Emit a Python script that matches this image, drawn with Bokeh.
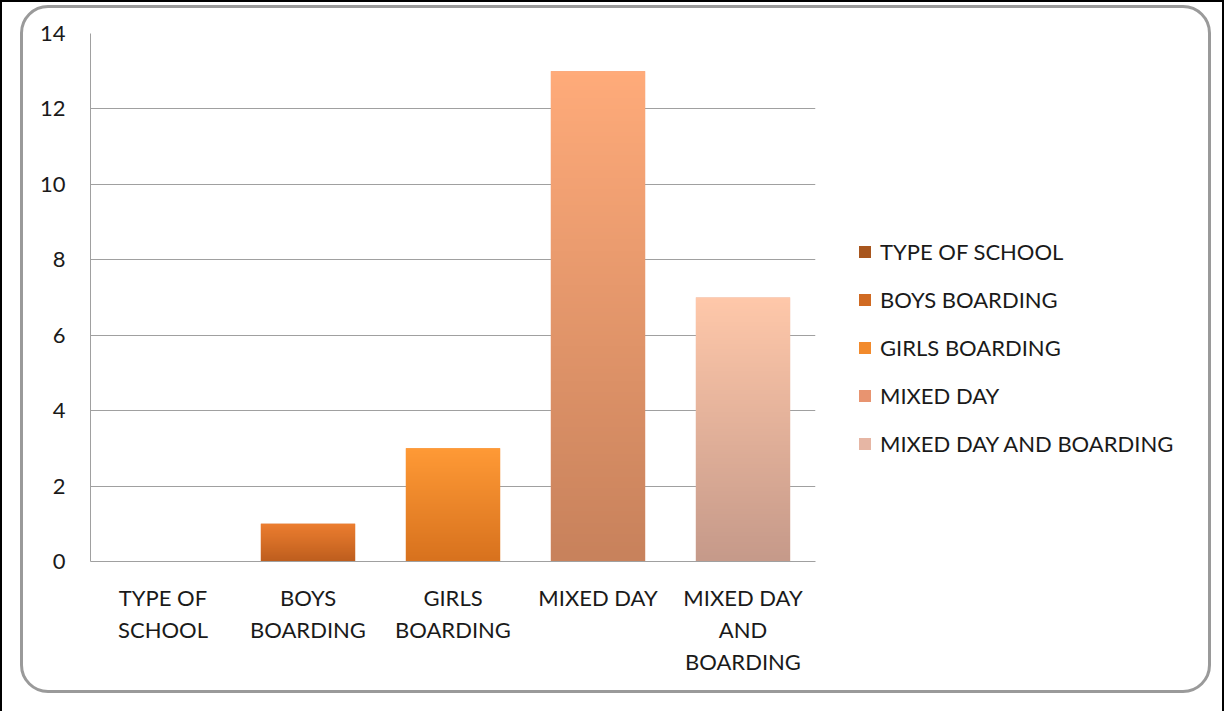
import numpy as np
from bokeh.plotting import figure
from bokeh.layouts import row
from bokeh.models import (ColumnDataSource, FactorRange, Range1d, SingleIntervalTicker,
                          Legend, LegendItem, InlineStyleSheet)
from bokeh.transform import dodge
from bokeh.embed import file_html
from bokeh.resources import INLINE

# ---- data ----
categories = ["TYPE OF SCHOOL", "BOYS BOARDING", "GIRLS BOARDING", "MIXED DAY", "MIXED DAY AND BOARDING"]
axis_labels = ["TYPE OF\nSCHOOL", "BOYS\nBOARDING", "GIRLS\nBOARDING", "MIXED DAY", "MIXED DAY\nAND\nBOARDING"]
counts = [0, 1, 3, 13, 7]
top_colors = ["#B86A30", "#EE7F30", "#FF9A36", "#FFAB7A", "#FFC8AA"]
bottom_colors = ["#9A4A18", "#BE5E1E", "#D8721E", "#C8825C", "#C69A8A"]
legend_colors = ["#A8561E", "#D06A22", "#F28A2C", "#E89470", "#E6B6A4"]

FONT = "Lato"
BAR_W = 0.65

# ---------------- chart ----------------
p = figure(width=840, height=711, x_range=FactorRange(factors=axis_labels),
           y_range=Range1d(0, 14), output_backend="svg", toolbar_location=None,
           min_border_left=90, min_border_right=25, min_border_top=33, min_border_bottom=150)
p.outline_line_color = None
p.background_fill_color = "white"
p.border_fill_color = "white"

p.yaxis.ticker = SingleIntervalTicker(interval=2)
p.ygrid.grid_line_color = "#A0A0A0"
p.ygrid.grid_line_width = 1
p.xgrid.grid_line_color = None

for ax in (p.xaxis[0], p.yaxis[0]):
    ax.axis_line_color = "#A0A0A0"
    ax.axis_line_width = 1
    ax.major_tick_line_color = None
    ax.minor_tick_line_color = None
    ax.major_label_text_font = FONT
    ax.major_label_text_font_size = "22px"
    ax.major_label_text_color = "#1a1a1a"

p.yaxis.major_label_standoff = 19
p.xaxis.major_label_standoff = 16
p.xaxis.major_label_text_line_height = 1.2

for i, c in enumerate(categories):
    s = ColumnDataSource(dict(cat=[axis_labels[i]], v=[counts[i]]))
    p.vbar(x="cat", top="v", width=BAR_W, source=s, fill_color=legend_colors[i], line_color=None)

# gradient overlay for each bar
def hex2rgb(h):
    h = h.lstrip("#")
    return np.array([int(h[k:k + 2], 16) for k in (0, 2, 4)], dtype=float)

n = 128
imgs = []
for tc, bc in zip(top_colors, bottom_colors):
    t = np.linspace(0, 1, n)[:, None]
    rgb = (1 - t) * hex2rgb(bc) + t * hex2rgb(tc)
    arr = np.zeros((n, 1), dtype=np.uint32)
    view = arr.view(dtype=np.uint8).reshape((n, 1, 4))
    view[:, 0, 0] = rgb[:, 0].astype(np.uint8)
    view[:, 0, 1] = rgb[:, 1].astype(np.uint8)
    view[:, 0, 2] = rgb[:, 2].astype(np.uint8)
    view[:, 0, 3] = 255
    imgs.append(arr)

gsrc = ColumnDataSource(dict(cat=axis_labels, img=imgs, h=counts))
p.image_rgba(image="img", x=dodge("cat", -BAR_W / 2, range=p.x_range), y=0,
             dw=BAR_W, dh="h", source=gsrc)

# ---------------- legend panel ----------------
# zero-size proxies of the bars; they only feed the legend swatches
q = figure(width=385, height=711, x_range=FactorRange(factors=categories), y_range=Range1d(-1, 14),
           output_backend="svg", toolbar_location=None,
           x_axis_location=None, y_axis_location=None,
           min_border_left=0, min_border_right=0, min_border_top=0, min_border_bottom=0)
q.outline_line_color = None
q.xgrid.grid_line_color = None
q.ygrid.grid_line_color = None
q.border_fill_color = "white"
q.background_fill_color = "white"

items = []
for i, c in enumerate(categories):
    s = ColumnDataSource(dict(cat=[c], v=[counts[i]]))
    r = q.vbar(x="cat", top="v", bottom="v", width=0, source=s,
               fill_color=legend_colors[i], line_color=None)
    items.append(LegendItem(label=c, renderers=[r]))

legend = Legend(items=items, location=(17, 104), glyph_width=15, glyph_height=15,
                label_text_font=FONT, label_text_font_size="22px", label_text_color="#1a1a1a",
                spacing=21, padding=0, margin=0, border_line_color=None,
                background_fill_alpha=0, label_standoff=8)
q.add_layout(legend, "center")

layout = row(p, q, spacing=0)

# rounded chart border and outer black frame (pure CSS decoration)
css = """
:host { position: relative; }
:host::before {
  content: ""; position: absolute; left: 0px; top: 0px; width: 1224px; height: 720px;
  border: 2px solid black; box-sizing: border-box; pointer-events: none; z-index: 10;
}
:host::after {
  content: ""; position: absolute; left: 20px; top: 5px; width: 1191px; height: 688px;
  border: 3px solid #9A9A9A; border-radius: 28px; box-sizing: border-box;
  pointer-events: none; z-index: 10;
}
"""
layout.stylesheets = [InlineStyleSheet(css=css)]

open("out.html", "w").write(file_html(layout, INLINE))
